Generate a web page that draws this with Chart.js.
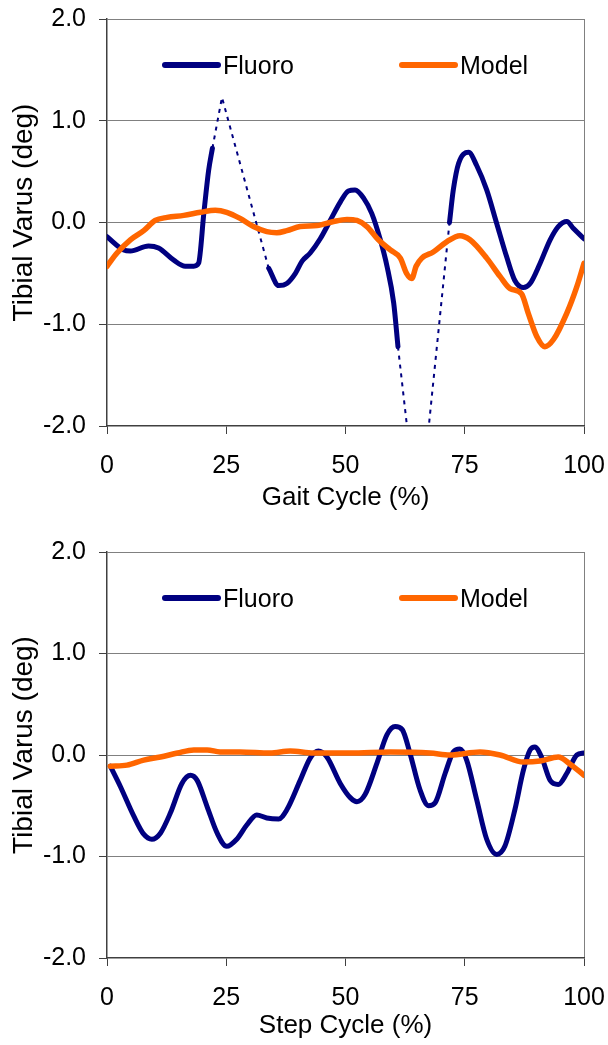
<!DOCTYPE html>
<html>
<head>
<meta charset="utf-8">
<script src="https://cdn.jsdelivr.net/npm/chart.js@4.4.1/dist/chart.umd.min.js"></script>
<style>
  html, body { margin: 0; padding: 0; background: #fff; }
  canvas { position: absolute; left: 0; }
  #gaitChart { top: 0; }
  #stepChart { top: 530px; }
</style>
</head>
<body>
<canvas id="gaitChart" width="608" height="530"></canvas>
<canvas id="stepChart" width="608" height="515"></canvas>
<script>
// ------------------------------------
// Data
// ------------------------------------
const xTicks = [0, 25, 50, 75, 100];
const yTicks = [-2, -1, 0, 1, 2];

// Gait cycle - fluoro (null = missing frames)
const gaitFluoroX = [0, 3.5, 4.9, 8.7, 10.8, 14, 16.4, 18.2, 19.2, 20.3, 21.3, 22.1, 28,
    33.9, 36, 37.7, 39.5, 40.9, 42.6, 44.7, 46.8, 48.9, 50.6, 52, 53.8, 55.5, 57.3, 58.7, 60.1, 61, 66,
    71.8, 72.6, 73.7, 75.8, 77.5, 79.6, 81.7, 83.8, 85.5, 87.3, 88.7, 90.8, 92.9, 94.6, 96.4, 97.8, 100];
const gaitFluoroY = [-0.14, -0.27, -0.28, -0.23, -0.25, -0.37, -0.43, -0.43, -0.40, 0.09, 0.51, 0.73, null,
    -0.45, -0.62, -0.60, -0.50, -0.38, -0.30, -0.16, 0.02, 0.20, 0.31, 0.32, 0.24, 0.09, -0.17, -0.43, -0.79, -1.22, null,
    0.0, 0.32, 0.58, 0.69, 0.56, 0.32, -0.01, -0.34, -0.57, -0.64, -0.60, -0.40, -0.17, -0.04, 0.01, -0.06, -0.16];

// Gait cycle - fluoro gaps (dotted)
const gaitGapX = [22.1, 24.1, 33.9, 47, 61, 65.3, 71.8];
const gaitGapY = [0.73, 1.23, -0.45, null, -1.22, -3.0, 0.0];

// Gait cycle - model
const gaitModelX = [0, 2.1, 4.9, 7.7, 10.1, 12.6, 16.1, 19.6, 22.7, 25.1, 27.9, 30.7, 33.5, 35.6, 37.7, 40.5,
    44, 47.5, 50.3, 52.4, 54.5, 56.9, 59.4, 61.5, 62.8, 63.9, 64.8, 66, 68.4, 71.2, 74, 76.1, 79.6, 82.4,
    84.5, 86.9, 88.3, 90.1, 91.8, 93.6, 96.4, 98.5, 100];
const gaitModelY = [-0.43, -0.30, -0.17, -0.08, 0.02, 0.05, 0.07, 0.10, 0.12, 0.10, 0.04, -0.04, -0.09, -0.10, -0.08, -0.04,
    -0.03, 0.01, 0.03, 0.02, -0.04, -0.17, -0.27, -0.35, -0.50, -0.55, -0.43, -0.35, -0.29, -0.19, -0.13, -0.17, -0.35, -0.53,
    -0.65, -0.70, -0.89, -1.12, -1.22, -1.15, -0.89, -0.63, -0.40];

// Step cycle - fluoro
const stepFluoroX = [0.7, 2.8, 5.6, 7.7, 9.4, 11.2, 13.3, 15.7, 17.5, 18.9, 21, 23.1, 25.1, 27.2, 29.3, 31.4, 33.5,
    36, 37.7, 40.5, 42.6, 44.3, 46.1, 48.9, 51, 52.4, 54.1, 56.6, 58.7, 60.4, 61.9, 63.5, 65.6, 67.4, 68.8,
    70.9, 72.6, 74, 75.4, 77.5, 79.6, 81.7, 83.4, 85.5, 87.3, 88.7, 89.7, 91.1, 92.9, 94.6, 96.4, 98.5, 100];
const stepFluoroY = [-0.11, -0.31, -0.60, -0.78, -0.83, -0.77, -0.57, -0.28, -0.20, -0.25, -0.51, -0.77, -0.90, -0.83, -0.69, -0.59, -0.62,
    -0.63, -0.54, -0.25, -0.03, 0.04, -0.02, -0.28, -0.42, -0.46, -0.39, -0.08, 0.20, 0.28, 0.25, 0.02, -0.34, -0.50, -0.47,
    -0.18, 0.03, 0.06, -0.05, -0.44, -0.83, -0.98, -0.90, -0.54, -0.15, 0.05, 0.08, -0.02, -0.25, -0.29, -0.18, 0.0, 0.02];

// Step cycle - model
const stepModelX = [0.7, 4.2, 7.7, 11.2, 14.8, 18.2, 21, 23.7, 27.9, 34.2, 38.4, 43.3, 51, 59.4, 67.7, 71.9,
    78.2, 82.4, 87.3, 90.8, 94.6, 97.1, 100];
const stepModelY = [-0.11, -0.10, -0.05, -0.02, 0.02, 0.05, 0.05, 0.03, 0.03, 0.02, 0.04, 0.02, 0.02, 0.03, 0.02, 0.0,
    0.03, 0.0, -0.07, -0.06, -0.02, -0.09, -0.20];

// ------------------------------------
// Styles
// ------------------------------------
const NAVY = '#000080';
const ORANGE = '#FF6600';
const GRID = '#808080';
const AXIS = '#404040';
const FONT = '"Liberation Sans", Arial, Helvetica, sans-serif';
const font = { family: FONT, size: 25 };
const xTitleFont = { family: FONT, size: 26 };

function pts(xs, ys) {
    return xs.map((x, i) => ({ x: x, y: ys[i] }));
}

// legend sits inside the plot area, like the Excel original
const insideLegend = {
    id: 'insideLegend',
    afterDatasetsDraw(chart) {
        const { ctx, chartArea } = chart;
        const y = chartArea.top + 46;
        const items = [
            { label: 'Fluoro', color: NAVY, x0: 58 },
            { label: 'Model', color: ORANGE, x0: 295 }
        ];
        ctx.save();
        ctx.lineCap = 'round';
        ctx.lineWidth = 6;
        ctx.font = '25px ' + FONT;
        ctx.textBaseline = 'middle';
        ctx.fillStyle = '#000';
        items.forEach(it => {
            ctx.strokeStyle = it.color;
            ctx.beginPath();
            ctx.moveTo(chartArea.left + it.x0, y);
            ctx.lineTo(chartArea.left + it.x0 + 53, y);
            ctx.stroke();
            ctx.fillText(it.label, chartArea.left + it.x0 + 58, y + 2);
        });
        ctx.restore();
    }
};

// y title, a bit above the axis centre as in the original
const yAxisTitle = {
    id: 'yAxisTitle',
    afterDraw(chart) {
        const { ctx, chartArea } = chart;
        ctx.save();
        ctx.translate(24.5, (chartArea.top + chartArea.bottom) / 2 - 10);
        ctx.rotate(-Math.PI / 2);
        ctx.font = '28px ' + FONT;
        ctx.textAlign = 'center';
        ctx.textBaseline = 'middle';
        ctx.fillStyle = '#000';
        ctx.fillText('Tibial Varus (deg)', 0, 0);
        ctx.restore();
    }
};

function makeChart(id, cfg) {
    const datasets = [
        {
            label: 'Model',
            data: pts(cfg.modelX, cfg.modelY),
            borderColor: ORANGE,
            borderWidth: 5.5,
            cubicInterpolationMode: 'monotone',
            borderCapStyle: 'round',
            borderJoinStyle: 'round',
            pointRadius: 0
        },
        {
            label: 'Fluoro',
            data: pts(cfg.fluoroX, cfg.fluoroY),
            borderColor: NAVY,
            borderWidth: 5,
            cubicInterpolationMode: 'monotone',
            borderCapStyle: 'round',
            borderJoinStyle: 'round',
            pointRadius: 0,
            spanGaps: false
        }
    ];
    if (cfg.gapX) {
        datasets.push({
            label: 'Fluoro gap',
            data: pts(cfg.gapX, cfg.gapY),
            borderColor: NAVY,
            borderWidth: 2,
            borderDash: [4, 5],
            tension: 0,
            pointRadius: 0,
            spanGaps: false
        });
    }

    return new Chart(document.getElementById(id), {
        type: 'line',
        data: { datasets: datasets },
        options: {
            responsive: false,
            animation: false,
            devicePixelRatio: 1,
            layout: { padding: { top: cfg.top, right: 24, left: 0, bottom: 0 } },
            plugins: {
                legend: { display: false },
                tooltip: { enabled: false }
            },
            scales: {
                x: {
                    type: 'linear',
                    min: 0,
                    max: 100,
                    afterBuildTicks: s => { s.ticks = xTicks.map(v => ({ value: v })); },
                    afterFit: s => {
                        s.height = cfg.xAxisH;
                        s.paddingLeft = 0;
                        s.paddingRight = 0;
                    },
                    ticks: { font: font, color: '#000', padding: 17, maxRotation: 0, autoSkip: false },
                    grid: {
                        color: c => (c.tick && c.tick.value === 100) ? GRID : 'transparent',
                        tickColor: AXIS,
                        tickLength: 8,
                        lineWidth: 1
                    },
                    border: { color: AXIS, width: 1.5 },
                    title: {
                        display: true,
                        text: cfg.xTitle,
                        font: xTitleFont,
                        color: '#000',
                        padding: { top: 0, bottom: cfg.titlePad }
                    }
                },
                y: {
                    min: -2,
                    max: 2,
                    afterBuildTicks: s => { s.ticks = yTicks.map(v => ({ value: v })); },
                    afterFit: s => {
                        s.width = 107;
                        s.paddingTop = 0;
                        s.paddingBottom = 0;
                    },
                    ticks: { font: font, color: '#000', padding: 13, callback: v => v.toFixed(1) },
                    grid: {
                        color: c => (c.tick && c.tick.value === -2) ? 'transparent' : GRID,
                        tickColor: AXIS,
                        tickLength: 8,
                        lineWidth: 1
                    },
                    border: { color: AXIS, width: 1.5 },
                    title: { display: false }
                }
            }
        },
        plugins: [insideLegend, yAxisTitle]
    });
}

makeChart('gaitChart', {
    xTitle: 'Gait Cycle (%)',
    top: 19, xAxisH: 104, titlePad: 17,
    fluoroX: gaitFluoroX, fluoroY: gaitFluoroY,
    gapX: gaitGapX, gapY: gaitGapY,
    modelX: gaitModelX, modelY: gaitModelY
});

makeChart('stepChart', {
    xTitle: 'Step Cycle (%)',
    top: 22, xAxisH: 87, titlePad: 4,
    fluoroX: stepFluoroX, fluoroY: stepFluoroY,
    modelX: stepModelX, modelY: stepModelY
});
</script>
</body>
</html>
